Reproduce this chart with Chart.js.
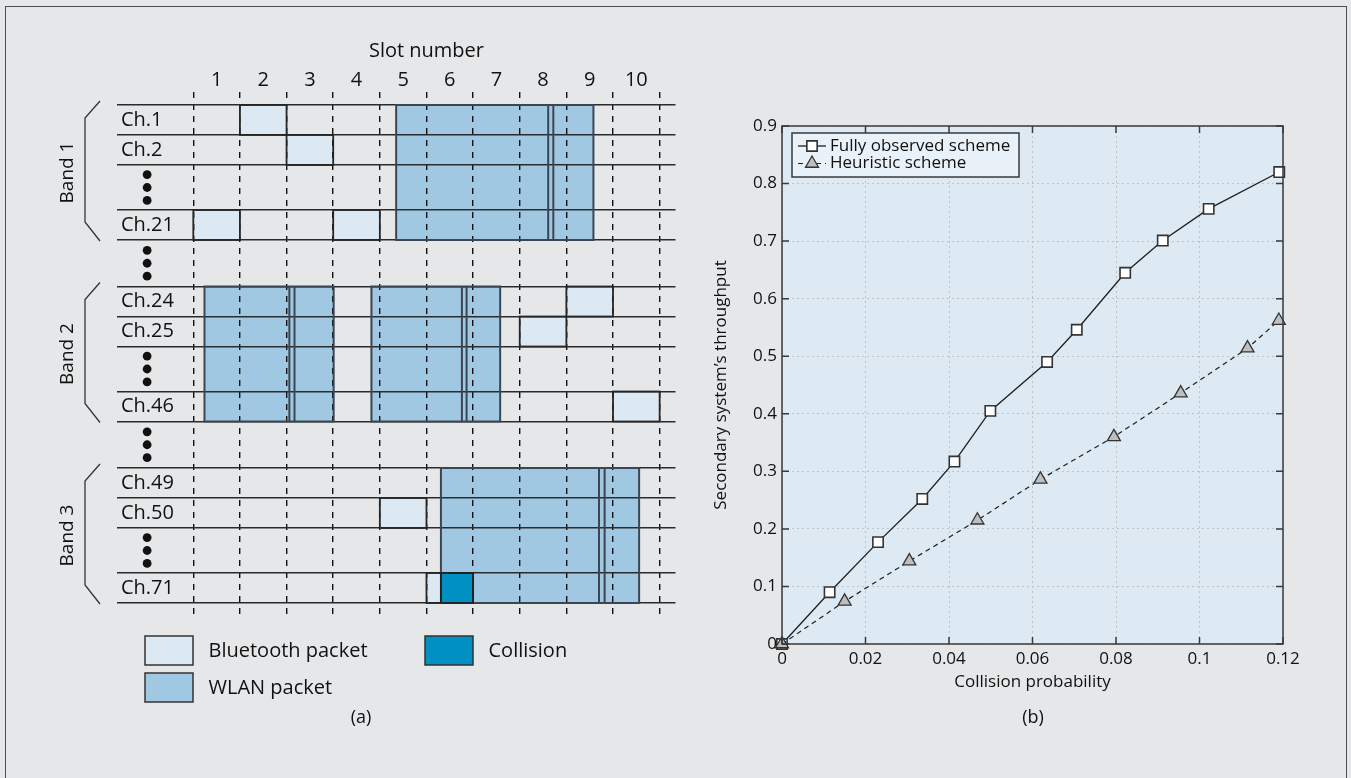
<!DOCTYPE html>
<html><head><meta charset="utf-8">
<script src="https://cdn.jsdelivr.net/npm/chart.js@4.4.1/dist/chart.umd.min.js"></script>
<style>
html,body{margin:0;padding:0;background:#e6e7e9;width:1351px;height:778px;overflow:hidden;font-family:'Open Sans',sans-serif;}
#frame{position:absolute;left:5px;top:6px;width:1342px;height:800px;border:1.5px solid #4d4d4d;box-sizing:border-box;}
.wrap{position:absolute;}
.lab{position:absolute;font:18px 'Open Sans',sans-serif;color:#111;transform:translate(-50%,-50%);white-space:nowrap;}
</style></head><body>
<div id="frame"></div>
<div class="wrap" style="left:0;top:0;width:690px;height:778px;"><canvas id="ca"></canvas></div>
<div class="wrap" style="left:690px;top:110px;width:650px;height:620px;"><canvas id="cb"></canvas></div>
<div class="lab" style="left:361px;top:716px">(a)</div>
<div class="lab" style="left:1033px;top:716px">(b)</div>
<script>
// ---------- Panel (a) data ----------
const slotLabels = ['1','2','3','4','5','6','7','8','9','10'];
const bandNames = ['Band 1','Band 2','Band 3'];
const bandChannels = [['Ch.1','Ch.2','Ch.21'],['Ch.24','Ch.25','Ch.46'],['Ch.49','Ch.50','Ch.71']];
const btChannel = ['Ch.1','Ch.2','Ch.21','Ch.21','Ch.24','Ch.25','Ch.46','Ch.50','Ch.71'];
const btSlot = [2,3,1,4,9,8,10,5,6];
const wlanBand = [0,1,1,2];
const wlanStart = [4.35,0.24,3.82,5.31];
const wlanDataEnd = [7.61,2.06,5.76,8.70];
const wlanAckStart = [7.72,2.17,5.86,8.82];
const wlanEnd = [8.58,3.01,6.58,9.56];
const colChannel = ['Ch.71'];
const colStart = [5.31];
const colEnd = [6.0];
const legendA = ['Bluetooth packet','WLAN packet','Collision'];

// ---------- Panel (b) data ----------
const xTickVals = [0,0.02,0.04,0.06,0.08,0.1,0.12];
const xTickLabels = ['0','0.02','0.04','0.06','0.08','0.1','0.12'];
const yTickVals = [0,0.1,0.2,0.3,0.4,0.5,0.6,0.7,0.8,0.9];
const yTickLabels = ['0','0.1','0.2','0.3','0.4','0.5','0.6','0.7','0.8','0.9'];
const fullyX = [0,0.0114,0.0230,0.0336,0.0413,0.0499,0.0635,0.0706,0.0822,0.0912,0.1022,0.1191];
const fullyY = [0,0.090,0.177,0.252,0.317,0.405,0.490,0.546,0.645,0.701,0.756,0.820];
const heurX = [0,0.0150,0.0305,0.0468,0.0619,0.0795,0.0955,0.1115,0.1190];
const heurY = [0,0.074,0.144,0.215,0.286,0.360,0.436,0.514,0.562];

Chart.defaults.font.family = "'Open Sans', sans-serif";
Chart.defaults.color = '#111111';

// ---------- Panel (a) layout ----------
const DOTS = 1.5, GAP = 1.55, BAND_H = 3 + DOTS;
const rowTop = {}, bandTop = [], dotCenters = [], boundaries = [];
const allChannels = [];
bandChannels.forEach((chs, b) => {
  const t = b * (BAND_H + GAP);
  bandTop.push(t);
  rowTop[chs[0]] = t; rowTop[chs[1]] = t + 1; rowTop[chs[2]] = t + 2 + DOTS;
  allChannels.push(...chs);
  boundaries.push(t, t + 1, t + 2, t + 2 + DOTS, t + 3 + DOTS);
  dotCenters.push(t + 2 + DOTS / 2);
  if (b < bandChannels.length - 1) dotCenters.push(t + BAND_H + GAP / 2);
});
const yEnd = bandTop[bandTop.length - 1] + BAND_H;
const Y_MIN = -0.4333, Y_MAX = yEnd + 0.5;
const X_MIN = -1.636, X_MAX = 10.34;
const dotPts = [];
dotCenters.forEach(c => { [-0.43, 0, 0.43].forEach(d => dotPts.push({x: -0.99, y: c + d})); });

const C_BT = '#dde9f2', C_WLAN = '#a0c8e3', C_COL = '#0090c2';

const packetPlugin = {
  id: 'packets',
  beforeDatasetsDraw(chart) {
    const {ctx, scales: {x, y}} = chart;
    const px = v => x.getPixelForValue(v), py = v => y.getPixelForValue(v);
    ctx.save();
    ctx.fillStyle = C_BT;
    btSlot.forEach((s, i) => {
      const t = rowTop[btChannel[i]];
      ctx.fillRect(px(s - 1), py(t), px(s) - px(s - 1), py(t + 1) - py(t));
    });
    ctx.fillStyle = C_WLAN;
    wlanBand.forEach((b, i) => {
      const t = bandTop[b];
      ctx.fillRect(px(wlanStart[i]), py(t), px(wlanEnd[i]) - px(wlanStart[i]), py(t + BAND_H) - py(t));
    });
    ctx.fillStyle = C_COL;
    colChannel.forEach((c, i) => {
      const t = rowTop[c];
      ctx.fillRect(px(colStart[i]), py(t), px(colEnd[i]) - px(colStart[i]), py(t + 1) - py(t));
    });
    ctx.restore();
  },
  afterDraw(chart) {
    const {ctx, chartArea: a, scales: {x, y}} = chart;
    const px = v => x.getPixelForValue(v), py = v => y.getPixelForValue(v);
    ctx.save();
    ctx.strokeStyle = '#262626'; ctx.lineWidth = 1.8;
    btSlot.forEach((s, i) => {
      const t = rowTop[btChannel[i]];
      ctx.strokeRect(px(s - 1), py(t), px(s) - px(s - 1), py(t + 1) - py(t));
    });
    ctx.strokeStyle = '#3a4651'; ctx.lineWidth = 2;
    wlanBand.forEach((b, i) => {
      const t = bandTop[b], top = py(t), bot = py(t + BAND_H);
      ctx.strokeRect(px(wlanStart[i]), top, px(wlanEnd[i]) - px(wlanStart[i]), bot - top);
      [wlanDataEnd[i], wlanAckStart[i]].forEach(v => {
        ctx.beginPath(); ctx.moveTo(px(v), top); ctx.lineTo(px(v), bot); ctx.stroke();
      });
    });
    ctx.strokeStyle = '#222'; ctx.lineWidth = 1.8;
    colChannel.forEach((c, i) => {
      const t = rowTop[c];
      ctx.strokeRect(px(colStart[i]), py(t), px(colEnd[i]) - px(colStart[i]), py(t + 1) - py(t));
    });
    ctx.strokeStyle = '#333'; ctx.lineWidth = 1.3;
    bandTop.forEach((t, b) => {
      const top = py(t), bot = py(t + BAND_H);
      ctx.beginPath();
      ctx.moveTo(a.left - 17, top - 4); ctx.lineTo(a.left - 32, top + 13);
      ctx.lineTo(a.left - 32, bot - 18); ctx.lineTo(a.left - 17, bot + 1);
      ctx.stroke();
      ctx.save();
      ctx.translate(a.left - 49.5, (top + bot) / 2); ctx.rotate(-Math.PI / 2);
      ctx.fillStyle = '#111'; ctx.font = "19px 'Open Sans', sans-serif";
      ctx.textAlign = 'center'; ctx.textBaseline = 'middle';
      ctx.fillText(bandNames[b], 0, 0);
      ctx.restore();
    });
    ctx.fillStyle = '#111'; ctx.font = "20px 'Open Sans', sans-serif";
    ctx.textAlign = 'center'; ctx.textBaseline = 'middle';
    ctx.fillText('Slot number', (px(0) + px(slotLabels.length)) / 2, 51);
    const sw = [[145, 636, C_BT], [145, 673, C_WLAN], [425, 636, C_COL]];
    ctx.textAlign = 'left';
    sw.forEach((s, i) => {
      ctx.fillStyle = s[2]; ctx.fillRect(s[0], s[1], 48, 29);
      ctx.strokeStyle = '#333'; ctx.lineWidth = 1.5; ctx.strokeRect(s[0], s[1], 48, 29);
      ctx.fillStyle = '#111';
      ctx.fillText(legendA[i], s[0] + 63.5, s[1] + 15);
    });
    ctx.restore();
  }
};

new Chart(document.getElementById('ca'), {
  type: 'scatter',
  data: {datasets: [{data: dotPts, pointRadius: 4.4, pointBackgroundColor: '#111', pointBorderWidth: 0, showLine: false}]},
  options: {
    responsive: true, maintainAspectRatio: false, animation: false, events: [],
    layout: {padding: {left: 117, right: 14.5, top: 0, bottom: 160}},
    plugins: {legend: {display: false}, tooltip: {enabled: false}},
    scales: {
      x: {type: 'linear', position: 'top', min: X_MIN, max: X_MAX,
        afterBuildTicks: s => { s.ticks = slotLabels.map((l, i) => ({value: i + 0.5})); },
        ticks: {callback: (v, i) => slotLabels[i], font: {size: 20}, padding: 0, maxRotation: 0, autoSkip: false},
        grid: {display: false, drawTicks: false}, border: {display: false},
        afterFit: s => { s.height = 92; }},
      x2: {type: 'linear', position: 'top', min: X_MIN, max: X_MAX,
        afterBuildTicks: s => { s.ticks = slotLabels.map((l, i) => ({value: i})).concat([{value: slotLabels.length}]); },
        ticks: {display: false},
        grid: {display: true, drawTicks: false, color: '#111', lineWidth: 1.4, z: 1},
        border: {display: false, dash: [6, 6]},
        afterFit: s => { s.height = 0; }},
      y: {type: 'linear', position: 'left', reverse: true, min: Y_MIN, max: Y_MAX,
        afterBuildTicks: s => { s.ticks = allChannels.map(c => ({value: rowTop[c] + 0.5})); },
        ticks: {mirror: true, callback: (v, i) => allChannels[i], padding: 4, font: {size: 20}, autoSkip: false},
        grid: {display: false, drawTicks: false}, border: {display: false},
        afterFit: s => { s.width = 0; }},
      y2: {type: 'linear', position: 'left', reverse: true, min: Y_MIN, max: Y_MAX,
        afterBuildTicks: s => { s.ticks = boundaries.map(v => ({value: v})); },
        ticks: {display: false},
        grid: {display: true, drawTicks: false, color: '#2b2b2b', lineWidth: 1.5, z: 1},
        border: {display: false},
        afterFit: s => { s.width = 0; }}
    }
  },
  plugins: [packetPlugin]
});

// ---------- Panel (b) ----------
const FRAME = '#3a3a3a';
function drawMarker(ctx, style, x, y, r, fill, stroke, lw) {
  ctx.save(); ctx.fillStyle = fill; ctx.strokeStyle = stroke; ctx.lineWidth = lw; ctx.setLineDash([]);
  ctx.beginPath();
  if (style === 'rect') { const s = Math.SQRT1_2 * r; ctx.rect(x - s, y - s, 2 * s, 2 * s); }
  else { for (let k = 0; k < 3; k++) { const ang = k * 2 * Math.PI / 3; const fx = x + Math.sin(ang) * r, fy = y - Math.cos(ang) * r; k ? ctx.lineTo(fx, fy) : ctx.moveTo(fx, fy); } ctx.closePath(); }
  ctx.fill(); ctx.stroke(); ctx.restore();
}
const plotPlugin = {
  id: 'plotFrame',
  beforeDraw(chart) {
    const {ctx, chartArea: a} = chart;
    ctx.save(); ctx.fillStyle = '#ddeaf4'; ctx.fillRect(a.left, a.top, a.width, a.height); ctx.restore();
  },
  afterDraw(chart) {
    const {ctx, chartArea: a, scales: {x, y}} = chart;
    ctx.save();
    ctx.strokeStyle = FRAME; ctx.lineWidth = 1.5;
    ctx.strokeRect(a.left, a.top, a.width, a.height);
    ctx.beginPath();
    x.ticks.forEach(t => { const p = x.getPixelForValue(t.value);
      ctx.moveTo(p, a.bottom); ctx.lineTo(p, a.bottom - 7); ctx.moveTo(p, a.top); ctx.lineTo(p, a.top + 7); });
    y.ticks.forEach(t => { const p = y.getPixelForValue(t.value);
      ctx.moveTo(a.left, p); ctx.lineTo(a.left + 7, p); ctx.moveTo(a.right, p); ctx.lineTo(a.right - 7, p); });
    ctx.stroke();
    const lx = a.left + 10, ly = a.top + 7, lw = 227, lh = 44;
    ctx.fillStyle = '#eaf2f9'; ctx.fillRect(lx, ly, lw, lh);
    ctx.strokeStyle = '#3a3a3a'; ctx.lineWidth = 1.5; ctx.strokeRect(lx, ly, lw, lh);
    const ds = chart.data.datasets;
    const rowsY = [ly + 13, ly + 30.5];
    ds.forEach((d, i) => {
      const yy = rowsY[i];
      ctx.save();
      ctx.strokeStyle = d.borderColor; ctx.lineWidth = d.borderWidth;
      ctx.setLineDash(d.borderDash || []);
      ctx.beginPath(); ctx.moveTo(lx + 6, yy); ctx.lineTo(lx + 34, yy); ctx.stroke();
      ctx.restore();
      drawMarker(ctx, d.pointStyle, lx + 20, yy, d.pointRadius, d.pointBackgroundColor, d.pointBorderColor, d.pointBorderWidth);
      ctx.fillStyle = '#111'; ctx.font = "17px 'Open Sans', sans-serif";
      ctx.textAlign = 'left'; ctx.textBaseline = 'middle';
      ctx.fillText(d.label, lx + 38, yy);
    });
    ctx.restore();
  }
};

new Chart(document.getElementById('cb'), {
  type: 'scatter',
  data: {datasets: [
    {label: 'Fully observed scheme', data: fullyX.map((v, i) => ({x: v, y: fullyY[i]})), showLine: true,
      borderColor: '#1e1e1e', borderWidth: 1.3, pointStyle: 'rect', pointRadius: 7.3,
      pointBackgroundColor: '#ffffff', pointBorderColor: '#333333', pointBorderWidth: 1.6, clip: false, order: 1},
    {label: 'Heuristic scheme', data: heurX.map((v, i) => ({x: v, y: heurY[i]})), showLine: true,
      borderColor: '#1e1e1e', borderWidth: 1.2, borderDash: [5, 4], pointStyle: 'triangle', pointRadius: 7.5,
      pointBackgroundColor: '#bdbfc1', pointBorderColor: '#333333', pointBorderWidth: 1.3, clip: false, order: 0}
  ]},
  options: {
    responsive: true, maintainAspectRatio: false, animation: false, events: [],
    layout: {padding: {left: 0, top: 16, right: 57, bottom: 0}},
    plugins: {legend: {display: false}, tooltip: {enabled: false}},
    scales: {
      x: {type: 'linear', min: 0, max: 0.12,
        afterBuildTicks: s => { s.ticks = xTickVals.map(v => ({value: v})); },
        ticks: {callback: (v, i) => xTickLabels[i], font: {size: 17}, padding: 4.5, maxRotation: 0, autoSkip: false},
        grid: {color: '#c2c2c2', lineWidth: 1, drawTicks: false},
        border: {display: false, dash: [2, 3]},
        title: {display: true, text: 'Collision probability', font: {size: 17}, padding: {top: 0, bottom: 37.8}},
        afterFit: s => { s.height = 86; }},
      y: {type: 'linear', min: 0, max: 0.9,
        afterBuildTicks: s => { s.ticks = yTickVals.map(v => ({value: v})); },
        ticks: {callback: (v, i) => yTickLabels[i], font: {size: 17}, padding: 5, autoSkip: false},
        grid: {color: '#c2c2c2', lineWidth: 1, drawTicks: false},
        border: {display: false, dash: [2, 3]},
        title: {display: true, text: 'Secondary system\u2019s throughput', font: {size: 17}, padding: {top: 20.8, bottom: 0}},
        afterFit: s => { s.width = 92; }}
    }
  },
  plugins: [plotPlugin]
});
</script>
</body></html>
